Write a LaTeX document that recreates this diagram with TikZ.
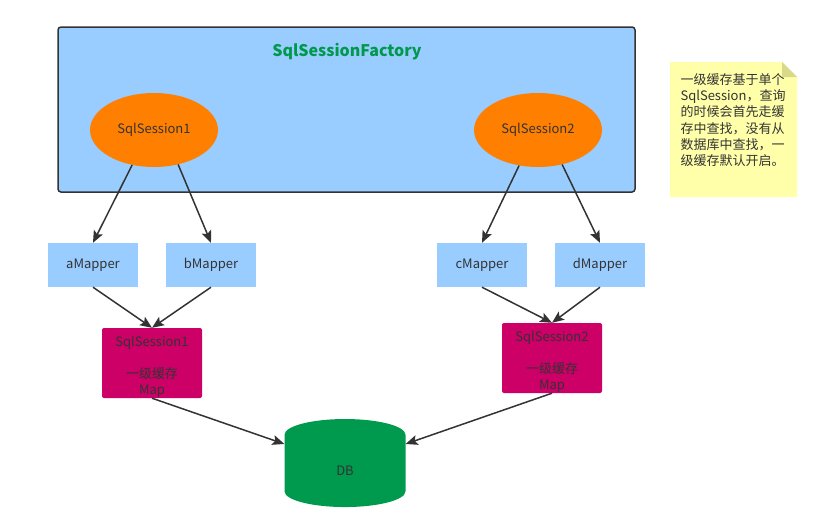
\documentclass[tikz,border=0pt]{standalone}
\usepackage{fontspec}
\setmainfont{Noto Sans CJK SC}
\usetikzlibrary{arrows.meta,shapes.geometric}
\definecolor{factoryblue}{HTML}{99CCFF}
\definecolor{sessionorange}{HTML}{FF8000}
\definecolor{cachered}{HTML}{CC0066}
\definecolor{dbgreen}{HTML}{009A4E}
\definecolor{titlegreen}{HTML}{00994C}
\definecolor{noteyellow}{HTML}{FFFFAA}
\definecolor{notefold}{HTML}{D9D98C}
\definecolor{textgray}{HTML}{333333}

\begin{document}
\begin{tikzpicture}[x=1pt,y=-1pt]
\tikzstyle{every node}=[text=textgray, font=\fontsize{13}{16}\selectfont, inner sep=0pt]
\tikzstyle{session}=[ellipse, fill=sessionorange, minimum width=128pt, minimum height=74pt]
\tikzstyle{mapper}=[fill=factoryblue, minimum width=90pt, minimum height=44pt]
\tikzstyle{cache}=[fill=cachered, rounded corners=2pt, minimum width=100pt, minimum height=70pt, align=center]
\tikzstyle{arr}=[-{Stealth[length=12pt,width=10pt,inset=2.5pt]}, line width=1.5pt, draw=textgray]
\useasboundingbox (0,0) rectangle (836,528);
\node (factory) [draw=textgray, line width=1.5pt, fill=factoryblue, rounded corners=3pt, minimum width=577pt, minimum height=165pt] at (346.5,109.5) {};
\node (title) [text=titlegreen, font=\bfseries\fontsize{16}{18}\selectfont] at (347,52) {SqlSessionFactory};
\node (s1) [session] at (154,130) {SqlSession1};
\node (s2) [session] at (538,130) {SqlSession2};
\node (am) [mapper] at (93,265) {aMapper};
\node (bm) [mapper] at (211,265) {bMapper};
\node (cm) [mapper] at (482,265) {cMapper};
\node (dm) [mapper] at (600,265) {dMapper};
\node (c1) [cache] at (152,363) {\rule{0pt}{17pt}SqlSession1\\ \\一级缓存\\Map};
\node (c2) [cache] at (552,358) {\rule{0pt}{17pt}SqlSession2\\ \\一级缓存\\Map};
\node (db) [cylinder, shape border rotate=90, aspect=1.8, fill=dbgreen, minimum width=121pt, minimum height=88pt] at (345,471) {DB};
\draw[fill=noteyellow, draw=none] (670,62) -- (782,62) -- (797,77) -- (797,197) -- (670,197) -- cycle;
\draw[fill=notefold, draw=none] (782,62) -- (797,77) -- (782,77) -- cycle;
\node (note) [align=left, font=\fontsize{13}{16.2}\selectfont] at (733,120) {一级缓存基于单个\\SqlSession，查询\\的时候会首先走缓\\存中查找，没有从\\数据库中查找，一\\级缓存默认开启。};
\draw[arr] (s1.-122) -- (am.north);
\draw[arr] (s1.-55) -- (bm.north);
\draw[arr] (s2.-118) -- (cm.north);
\draw[arr] (s2.-55) -- (dm.north);
\draw[arr] (am.south) -- (c1.north);
\draw[arr] (bm.south) -- (c1.north);
\draw[arr] (cm.south) -- (c2.north);
\draw[arr] (dm.south) -- (c2.north);
\draw[arr] (c1.south) -- (db.156);
\draw[arr] (c2.south) -- (db.24);
\end{tikzpicture}
\end{document}
